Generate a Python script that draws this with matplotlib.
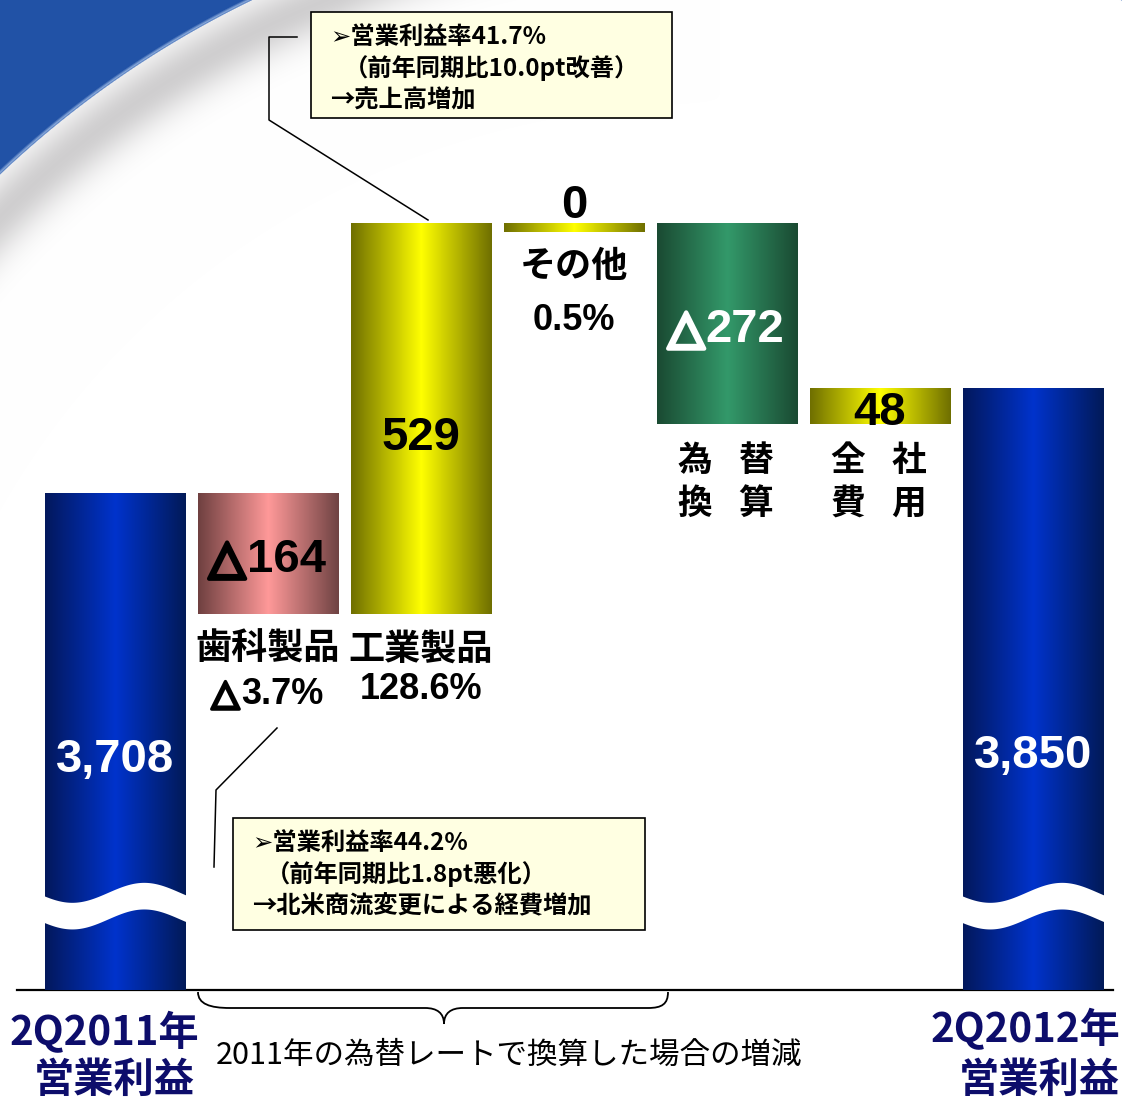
#!/usr/bin/env python3
# coding: utf-8

import matplotlib
matplotlib.use('Agg')
import matplotlib.pyplot as plt
import numpy as np
from matplotlib import font_manager
from matplotlib import patheffects
from matplotlib.colors import LinearSegmentedColormap
from matplotlib.patches import Rectangle, PathPatch
from matplotlib.path import Path

plt.rcParams['font.family'] = ['Noto Sans CJK JP', 'DejaVu Sans']

# --- data -------------------------------------------------------------
start_label = ['2Q2011年', '営業利益']
end_label = ['2Q2012年', '営業利益']
start_value = 3708
end_value = 3850
segments = ['歯科製品', '工業製品', 'その他', '為替換算', '全社費用']
deltas = [-164, 529, 0, -272, 48]
value_labels = ['△164', '529', '0', '△272', '48']
growth = ['△3.7%', '128.6%', '0.5%', None, None]
callout_industrial = ['➢営業利益率41.7%', '（前年同期比10.0pt改善）', '→売上高増加']
callout_dental = ['➢営業利益率44.2%', '（前年同期比1.8pt悪化）', '→北米商流変更による経費増加']
brace_text = '2011年の為替レートで換算した場合の増減'

# --- styles -----------------------------------------------------------
W, H = 1122, 1103
Y_FLOOR, Y_TOP = 3036, 4374   # broken axis: bars start at the floor
ZERO_H = 12                   # visible thickness of a zero change bar
NAVY = '#0d0d6b'

ramps = {
    'blue': ['#03185c', '#0033cc', '#021a58'],
    'pink': ['#6f4040', '#ff9999', '#6f4343'],
    'yellow': ['#6f6f00', '#ffff00', '#6f6f00'],
    'green': ['#1a4a32', '#33996a', '#1a4a32'],
}
seg_colors = ['pink', 'yellow', 'yellow', 'green', 'yellow']
pct_dy = [-58, -54, -64]

names = {f.name for f in font_manager.fontManager.ttflist}
NARROW = 'Liberation Sans Narrow' if 'Liberation Sans Narrow' in names else 'Liberation Sans'
NUM_FONT = ['Liberation Sans', 'DejaVu Sans']
PCT_FONT = [NARROW, 'DejaVu Sans']


def background():
    yy, xx = np.mgrid[0:H, 0:W]
    r = 997
    s = r - np.hypot(xx - 686, yy - 897)
    img = np.ones((H, W, 3))
    fade = np.clip((720 - xx) / 380, 0, 1)
    k = np.where(s >= 0, 0.42 * np.exp(-((s - 30) / 30) ** 2), 0) * fade
    gray = np.array([0.56, 0.55, 0.56])
    img = img - k[..., None] * (1 - gray)
    blue = np.array([0x21, 0x52, 0xa6]) / 255
    a = np.clip(0.5 - s, 0, 1)[..., None]
    edge = np.clip(1 - np.abs(s + 1.5) / 2.5, 0, 1)[..., None] * 0.6
    img = img * (1 - a) + blue * a
    img = img * (1 - edge) + np.array([0.8, 0.88, 0.98]) * edge
    return img


def delta_text(ax, xy, label, dy, size, font, color):
    # a heavier outline triangle followed by the number
    kw = dict(textcoords='offset points', va='center', fontsize=size,
              fontweight='bold', color=color, zorder=4)
    if not label.startswith('△'):
        return ax.annotate(label, xy, xytext=(0, dy), ha='center', family=font, **kw)
    tri = ax.annotate('△', xy, xytext=(0, dy), ha='right', family=['DejaVu Sans'],
                      path_effects=[patheffects.withStroke(linewidth=size / 11,
                                                           foreground=color)], **kw)
    num = ax.annotate(label[1:], xy, xytext=(0, dy), ha='left', family=font, **kw)
    r = fig.canvas.get_renderer()
    wt = tri.get_window_extent(r).width
    wn = num.get_window_extent(r).width
    j = (wt - wn) / 2 * 72 / fig.dpi
    tri.xyann = (j - 1, dy)
    num.xyann = (j, dy)


fig = plt.figure(figsize=(W / 100, H / 100), dpi=100)

# pixel-space layer for background and annotations
bg = fig.add_axes([0, 0, 1, 1])
bg.imshow(background(), extent=(0, W, H, 0), aspect='auto', zorder=0)
bg.set_xlim(0, W)
bg.set_ylim(H, 0)
bg.axis('off')

# main waterfall axes
ax = fig.add_axes([0, 113 / H, 1, 990 / H])
ax.patch.set_visible(False)

x = np.arange(len(deltas) + 2)
bottoms = [Y_FLOOR]
heights = [start_value - Y_FLOOR]
level = start_value
for d in deltas:
    if d > 0:
        bottoms.append(level)
        heights.append(d)
    elif d < 0:
        bottoms.append(level + d)
        heights.append(-d)
    else:
        bottoms.append(level - ZERO_H)
        heights.append(ZERO_H)
    level += d
bottoms.append(Y_FLOOR)
heights.append(end_value - Y_FLOOR)
colors = ['blue'] + seg_colors + ['blue']

bars = ax.bar(x, heights, bottom=bottoms, width=0.92, color='none', linewidth=0)
grad = np.linspace(0, 1, 256).reshape(1, -1)
for rect, c in zip(bars, colors):
    cmap = LinearSegmentedColormap.from_list(c, ramps[c])
    x0, y0 = rect.get_x(), rect.get_y()
    im = ax.imshow(grad, extent=(x0, x0 + rect.get_width(), y0, y0 + rect.get_height()),
                   aspect='auto', cmap=cmap, interpolation='bilinear', zorder=2)
    im.set_clip_path(rect)

ax.set_xlim(-0.752, 6.582)
ax.set_ylim(Y_FLOOR, Y_TOP)
ax.axis('off')

# wavy break on the two totals
f = np.linspace(0, 1, 120)
for i in (0, len(x) - 1):
    rect = bars[i]
    xs = rect.get_x() - 0.01 + f * (rect.get_width() + 0.02)
    upper = 3150 + 18 - 13.5 * np.sin(2 * np.pi * (f + 0.05))
    ax.fill_between(xs, upper - 36, upper, color='white', linewidth=0, zorder=3)

# totals
ax.text(x[0], 3347, f'{start_value:,}', ha='center', va='center', color='white',
        fontsize=34, fontweight='bold', family=NUM_FONT, zorder=4)
ax.text(x[-1], 3352, f'{end_value:,}', ha='center', va='center', color='white',
        fontsize=34, fontweight='bold', family=NUM_FONT, zorder=4)

# change labels
for i, (d, lab) in enumerate(zip(deltas, value_labels)):
    rect = bars[i + 1]
    xc = x[i + 1]
    col = 'white' if seg_colors[i] == 'green' else 'black'
    if d == 0:
        delta_text(ax, (xc, rect.get_y() + rect.get_height()), lab, 12, 34, NUM_FONT, col)
    else:
        dy = -14 if d > 300 else -5
        delta_text(ax, (xc, rect.get_y() + rect.get_height() / 2), lab, dy, 34,
                   NUM_FONT, col)

    bot = rect.get_y()
    if growth[i] is not None:
        ax.annotate(segments[i], (xc, bot), xytext=(0, -25), textcoords='offset points',
                    ha='center', va='center', fontsize=26, fontweight='bold')
        delta_text(ax, (xc, bot), growth[i], pct_dy[i], 26, PCT_FONT, 'black')
    else:
        chars = segments[i]
        for j, ch in enumerate(chars):
            dx = -0.21 if j % 2 == 0 else 0.19
            dy = -26 if j < 2 else -57
            ax.annotate(ch, (xc + dx, bot), xytext=(0, dy), textcoords='offset points',
                        ha='center', va='center', fontsize=25, fontweight='bold')

# baseline
bg.plot([17, 1113], [990, 990], color='black', lw=1.6, zorder=1)

# callouts (pixel coordinates)
for (bx0, by0, bx1, by1), lines, tx, ty in [
        ((311, 12, 672, 118), callout_industrial, 330, 37),
        ((233, 818, 645, 930), callout_dental, 252, 843)]:
    bg.add_patch(Rectangle((bx0, by0), bx1 - bx0, by1 - by0, facecolor='#ffffe2',
                           edgecolor='black', lw=1.2, zorder=2))
    for k, line in enumerate(lines):
        indent = 14 if k == 1 else 0
        bg.text(tx + indent, ty + k * 31.5, line, ha='left', va='center', fontsize=17.5,
                fontweight='bold', zorder=3)

bg.plot([297, 269, 269, 428], [37, 37, 120, 220], color='black', lw=1.1, zorder=2)
bg.plot([277, 216, 214], [728, 790, 867], color='black', lw=1.1, zorder=2)

# brace under the change bars
verts = [(198, 992), (198, 1004), (210, 1008), (230, 1008),
         (425, 1008),
         (437, 1008), (444, 1013), (444, 1024),
         (444, 1013), (451, 1008), (463, 1008),
         (648, 1008),
         (662, 1008), (668, 1004), (668, 992)]
codes = [Path.MOVETO, Path.CURVE4, Path.CURVE4, Path.CURVE4,
         Path.LINETO,
         Path.CURVE4, Path.CURVE4, Path.CURVE4,
         Path.CURVE4, Path.CURVE4, Path.CURVE4,
         Path.LINETO,
         Path.CURVE4, Path.CURVE4, Path.CURVE4]
bg.add_patch(PathPatch(Path(verts, codes), facecolor='none', edgecolor='black', lw=1.3,
                       zorder=2))
bg.text(509, 1055, brace_text, ha='center', va='center', fontsize=22, zorder=2)

# axis captions
bg.text(104, 1033, start_label[0], ha='center', va='center', fontsize=29,
        fontweight='bold', color=NAVY)
bg.text(114, 1080, start_label[1], ha='center', va='center', fontsize=29,
        fontweight='bold', color=NAVY)
bg.text(1120, 1030, end_label[0], ha='right', va='center', fontsize=29,
        fontweight='bold', color=NAVY)
bg.text(1120, 1080, end_label[1], ha='right', va='center', fontsize=29,
        fontweight='bold', color=NAVY)

fig.savefig('out.png', dpi=100)
